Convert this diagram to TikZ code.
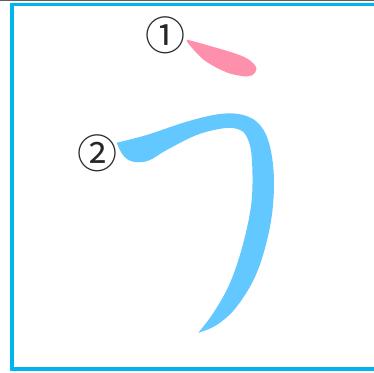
\documentclass[tikz,border=0pt]{standalone}
\usepackage{fontspec}
\newfontfamily\jp{Noto Sans CJK JP}
\definecolor{frameblue}{HTML}{00B4F0}
\definecolor{strokepink}{HTML}{FF90AB}
\definecolor{strokeblue}{HTML}{63C8FF}
\definecolor{topgray}{HTML}{606060}
\tikzset{
  num/.style={inner sep=0pt, font=\jp\fontsize{40}{40}\selectfont, text=black!85},
}
\begin{document}
\begin{tikzpicture}[x=1pt,y=-1pt]
\useasboundingbox (0,0) rectangle (374,372);
\clip (0,0) rectangle (374,372);
\fill[white] (0,0) rectangle (374,372);
\draw[topgray, line width=1.2pt] (0,0.6) -- (374,0.6);
\draw[frameblue, line width=3.6pt] (12,4.6) rectangle (390,369);
% stroke 1 (pink)
\fill[strokepink] plot[smooth,tension=0.6] coordinates {(186.5,39.5) (206.7,45) (236.7,54) (250,60.5) (256.5,68.5) (252.5,75) (245,76.5)} -- plot[smooth,tension=0.6] coordinates {(245,76.5) (227,72.5) (204,60) (187.5,42.5)} -- cycle;
% stroke 2 (blue)
\fill[strokeblue] plot[smooth,tension=0.6] coordinates {(116.7,142.7) (146.7,135) (186.7,121.7) (220,114) (243.3,115) (260,125) (270,146.7) (274,183) (270,226.7) (256.7,273) (236.7,306.7) (216.7,325) (198.3,332.7)} -- plot[smooth,tension=0.6] coordinates {(198.3,332.7) (213.3,313) (230,283) (243.3,243) (251.7,200) (251.7,156.7) (246.7,136.7) (238.3,129.3) (223.3,128.3) (196.7,135) (166.7,150) (150,160) (138.3,162.3) (128.3,160) (121.7,153.3) (116.7,142.7)} -- cycle;
\node[num] (n1) at (165.5,35.5) {①};
\node[num] (n2) at (97.5,153.5) {②};
\end{tikzpicture}
\end{document}
